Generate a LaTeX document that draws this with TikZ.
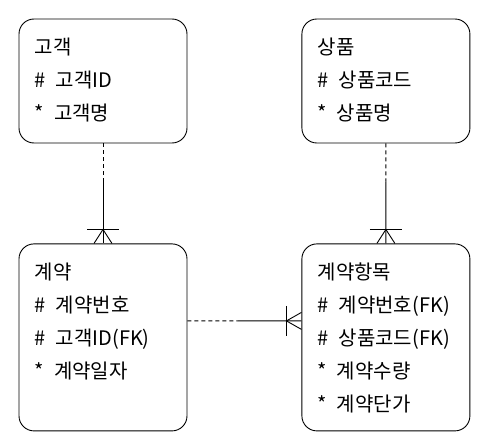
\documentclass[tikz,border=0pt]{standalone}
\usepackage{fontspec}
\setmainfont{Noto Sans CJK KR}
\usetikzlibrary{positioning,calc}

\tikzset{
  entity/.style={draw, rounded corners=15pt, line width=0.9pt, minimum width=168pt, minimum height=124pt, inner sep=0pt},
  attrs/.style={anchor=north west, align=left, inner sep=0pt, font=\fontsize{20}{33}\selectfont},
  link/.style={line width=0.9pt},
  optional/.style={link, dash pattern=on 4pt off 3pt},
}

\begin{document}
\begin{tikzpicture}[x=1pt,y=1pt]
  \useasboundingbox (0,0) rectangle (490,-444);
  %entity boxes
  \node[entity] (gogaek) at (103,-81) {};
  \node[entity, right=114pt of gogaek] (sangpum) {};
  \node[entity, minimum height=187pt, below=100pt of gogaek] (gyeyak) {};
  \node[entity, minimum height=187pt, below=100pt of sangpum] (hangmok) {};
  %attribute lists
  \node[attrs] (gogaek-a) at ($(gogaek.north west)+(16,-19.5)$) {고객\\\#\enspace 고객ID\\*\enspace 고객명};
  \node[attrs] (sangpum-a) at ($(sangpum.north west)+(16,-19.5)$) {상품\\\#\enspace 상품코드\\*\enspace 상품명};
  \node[attrs] (gyeyak-a) at ($(gyeyak.north west)+(16,-19.5)$) {계약\\\#\enspace 계약번호\\\#\enspace 고객ID(FK)\\*\enspace 계약일자};
  \node[attrs] (hangmok-a) at ($(hangmok.north west)+(16,-19.5)$) {계약항목\\\#\enspace 계약번호(FK)\\\#\enspace 상품코드(FK)\\*\enspace 계약수량\\*\enspace 계약단가};
  %gogaek - gyeyak
  \coordinate (m1) at ($(gogaek.south)!0.38!(gyeyak.north)$);
  \draw[optional] (gogaek.south) -- (m1);
  \draw[link] (m1) -- (gyeyak.north);
  \draw[link] ($(gyeyak.north)+(-16,14)$) -- ++(32,0);
  \draw[link] ($(gyeyak.north)+(-9,0)$) -- ($(gyeyak.north)+(0,14)$) -- ($(gyeyak.north)+(9,0)$);
  %sangpum - hangmok
  \coordinate (m2) at ($(sangpum.south)!0.38!(hangmok.north)$);
  \draw[optional] (sangpum.south) -- (m2);
  \draw[link] (m2) -- (hangmok.north);
  \draw[link] ($(hangmok.north)+(-16,14)$) -- ++(32,0);
  \draw[link] ($(hangmok.north)+(-9,0)$) -- ($(hangmok.north)+(0,14)$) -- ($(hangmok.north)+(9,0)$);
  %gyeyak - hangmok
  \coordinate (p1) at ($(gyeyak.east)+(0,16.5)$);
  \coordinate (p2) at ($(hangmok.west)+(0,16.5)$);
  \coordinate (m3) at ($(p1)!0.44!(p2)$);
  \draw[optional] (p1) -- (m3);
  \draw[link] (m3) -- (p2);
  \draw[link] ($(p2)+(-15,15)$) -- ++(0,-30);
  \draw[link] ($(p2)+(0,8.5)$) -- ($(p2)+(-15,0)$) -- ($(p2)+(0,-8.5)$);
\end{tikzpicture}
\end{document}
